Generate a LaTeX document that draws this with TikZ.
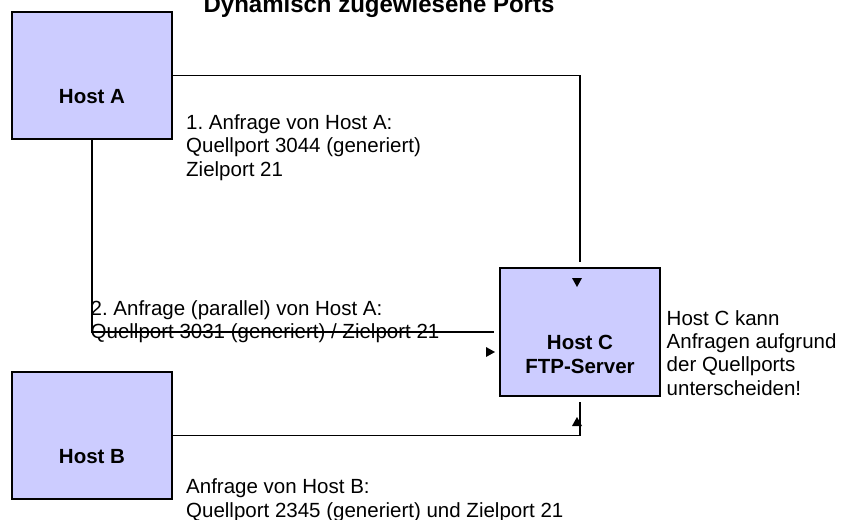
\documentclass[tikz,border=0pt]{standalone}
\usepackage{fontspec}
\setmainfont{Liberation Sans}
\frenchspacing
\usetikzlibrary{positioning,calc}
\definecolor{hostfill}{RGB}{204,204,255}
\tikzset{
    host/.style={rectangle, draw=black, fill=hostfill, line width=1.2pt, minimum width=160pt, minimum height=127pt, inner sep=0pt},
    hostlabel/.style={font=\fontsize{20.5}{24}\selectfont\bfseries, align=center, inner sep=0pt},
    note/.style={font=\fontsize{20.5}{23.5}\selectfont, align=left, inner sep=0pt, anchor=base west},
    link/.style={line width=1.2pt},
    tipmark/.style={fill=black}
}
\begin{document}
\begin{tikzpicture}[x=1pt,y=-1pt]
\useasboundingbox (0,0) rectangle (842,519);

% title
\node[font=\fontsize{24}{28}\selectfont\bfseries, anchor=base, inner sep=0pt] (title) at (379,12.5) {Dynamisch zugewiesene Ports};

% ----------------------------
% Hosts
% ----------------------------
\node[host, label={[hostlabel, yshift=-21pt]center:Host A}] (hostA) at (92,75.5) {};
\node[host, label={[hostlabel, yshift=-21pt]center:Host B}] (hostB) at (92,435.5) {};
\node[host, minimum height=128pt, label={[hostlabel, yshift=-22pt]center:Host C\\FTP-Server}] (hostC) at (580,332) {};

% connector ends (just short of Host C)
\coordinate (endTop) at (580,262);
\coordinate (endLeft) at (494,332);
\coordinate (endBot) at (580,402);

% ----------------------------
% Connectors
% ----------------------------
\draw[link] (hostA.east) -| (endTop);
\draw[link] (hostA.south) |- (endLeft);
\draw[link] (hostB.east) -| (endBot);

% arrow heads
\foreach \x/\y/\r in {577/282.5/-90, 490.5/352/0, 577/421.5/90} {
  \fill[tipmark, shift={(\x,\y)}, rotate=\r] (-4.5,-5) -- (4.5,0) -- (-4.5,5) -- cycle;
}

% ----------------------------
% Notes (anchored at the baseline of their last line)
% ----------------------------
\node[note] (req1) at (186,176) {1. Anfrage von Host A:\\Quellport 3044 (generiert)\\Zielport 21};
\node[note] (req2) at (90.5,338.5) {2. Anfrage (parallel) von Host A:\\Quellport 3031 (generiert) / Zielport 21};
\node[note] (reqB) at (186,517) {Anfrage von Host B:\\Quellport 2345 (generiert) und Zielport 21};
\node[note, font=\fontsize{20.5}{23.3}\selectfont] (hint) at (666.5,395) {Host C kann\\Anfragen aufgrund\\der Quellports\\unterscheiden!};

\end{tikzpicture}
\end{document}
